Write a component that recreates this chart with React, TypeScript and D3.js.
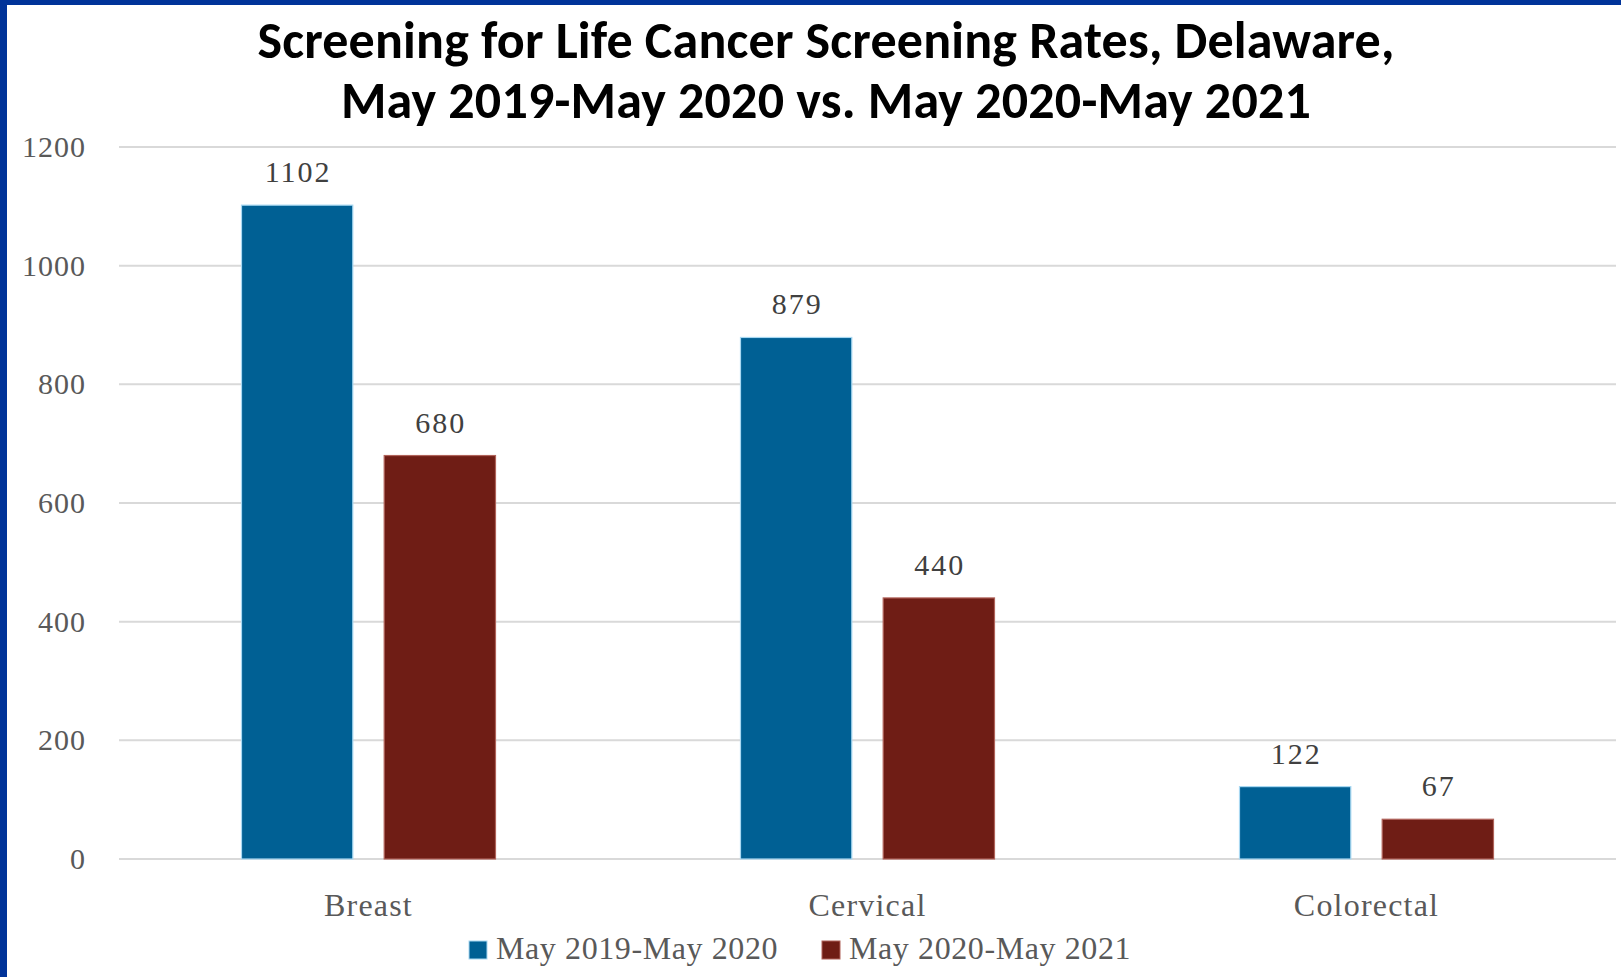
import React, { useEffect, useRef } from 'react';
import * as d3 from 'd3';

const categories = ['Breast', 'Cervical', 'Colorectal'];
const seriesNames = ['May 2019-May 2020', 'May 2020-May 2021'];
const values2019 = [1102, 879, 122];
const values2020 = [680, 440, 67];
const yTicks = [0, 200, 400, 600, 800, 1000, 1200];
const titleLines = [
  'Screening for Life Cancer Screening Rates, Delaware,',
  'May 2019-May 2020 vs. May 2020-May 2021',
];

const W = 1621;
const H = 977;
const colors = ['#006094', '#6f1d15'];
const outlines = ['#a8d8f2', '#b0635a'];
const serif = '"Palatino Linotype", "Book Antiqua", "Liberation Serif", serif';

const App = () => {
  const ref = useRef<SVGSVGElement>(null);

  useEffect(() => {
    const svg = d3.select(ref.current);
    svg.selectAll('*').remove();

    const left = 119, right = 1616, top = 147, bottom = 859;

    // frame
    svg.append('rect').attr('x', 0).attr('y', 0).attr('width', W).attr('height', H).attr('fill', '#fff');
    svg.append('rect').attr('x', 0).attr('y', 0).attr('width', W).attr('height', 5).attr('fill', '#003399');
    svg.append('rect').attr('x', 0).attr('y', 0).attr('width', 7).attr('height', H).attr('fill', '#003399');

    const x0 = d3.scaleBand().domain(categories).range([left, right]);
    const x1 = d3.scaleBand()
      .domain(seriesNames)
      .range([x0.bandwidth() / 2 - 127, x0.bandwidth() / 2 + 127])
      .paddingInner(0.22);
    const y = d3.scaleLinear().domain([0, 1200]).range([bottom, top]);

    // grid + y labels
    const grid = svg.append('g');
    grid.selectAll('line').data(yTicks).enter().append('line')
      .attr('x1', left).attr('x2', right)
      .attr('y1', d => y(d)).attr('y2', d => y(d))
      .attr('stroke', '#d9d9d9').attr('stroke-width', 2);
    grid.selectAll('text').data(yTicks).enter().append('text')
      .attr('x', 86).attr('y', d => y(d) + 10)
      .attr('text-anchor', 'end')
      .attr('font-family', serif).attr('font-size', 30)
      .attr('letter-spacing', 1)
      .attr('fill', '#595959')
      .text(d => d);

    const series = [values2019, values2020];
    series.forEach((vals, si) => {
      const g = svg.append('g');
      g.selectAll('rect').data(vals).enter().append('rect')
        .attr('x', (d, i) => (x0(categories[i]) as number) + (x1(seriesNames[si]) as number))
        .attr('y', d => y(d))
        .attr('width', x1.bandwidth())
        .attr('height', d => bottom - y(d))
        .attr('fill', colors[si])
        .attr('stroke', outlines[si])
        .attr('stroke-width', 1.2);
      g.selectAll('text').data(vals).enter().append('text')
        .attr('x', (d, i) => (x0(categories[i]) as number) + (x1(seriesNames[si]) as number) + x1.bandwidth() / 2 + 1)
        .attr('y', d => y(d) - 23)
        .attr('text-anchor', 'middle')
        .attr('font-family', serif).attr('font-size', 30)
        .attr('letter-spacing', 2)
        .attr('fill', '#404040')
        .text(d => d);
    });

    // category labels
    svg.append('g').selectAll('text').data(categories).enter().append('text')
      .attr('x', d => (x0(d) as number) + x0.bandwidth() / 2)
      .attr('y', 916)
      .attr('text-anchor', 'middle')
      .attr('font-family', serif).attr('font-size', 32)
      .attr('letter-spacing', 1.2)
      .attr('fill', '#595959')
      .text(d => d);

    // legend
    const legendX = [469, 822];
    const lg = svg.append('g');
    seriesNames.forEach((name, i) => {
      lg.append('rect')
        .attr('x', legendX[i]).attr('y', 941)
        .attr('width', 18).attr('height', 18)
        .attr('fill', colors[i]).attr('stroke', outlines[i]).attr('stroke-width', 1);
      lg.append('text')
        .attr('x', legendX[i] + 27).attr('y', 959)
        .attr('font-family', serif).attr('font-size', 32)
        .attr('letter-spacing', 0.6)
        .attr('fill', '#595959')
        .text(name);
    });

    // title
    svg.append('g').selectAll('text').data(titleLines).enter().append('text')
      .attr('x', 826)
      .attr('y', (d, i) => 58 + i * 60)
      .attr('text-anchor', 'middle')
      .attr('font-family', 'Calibri, Carlito, "Liberation Sans", sans-serif')
      .attr('font-weight', 'bold').attr('font-size', 52)
      .attr('letter-spacing', 0.2)
      .attr('fill', '#000')
      .text(d => d);
  }, []);

  return (
    <svg ref={ref} width={W} height={H}
      style={{ position: 'absolute', left: 0, top: 0, display: 'block' }} />
  );
};

export default App;
